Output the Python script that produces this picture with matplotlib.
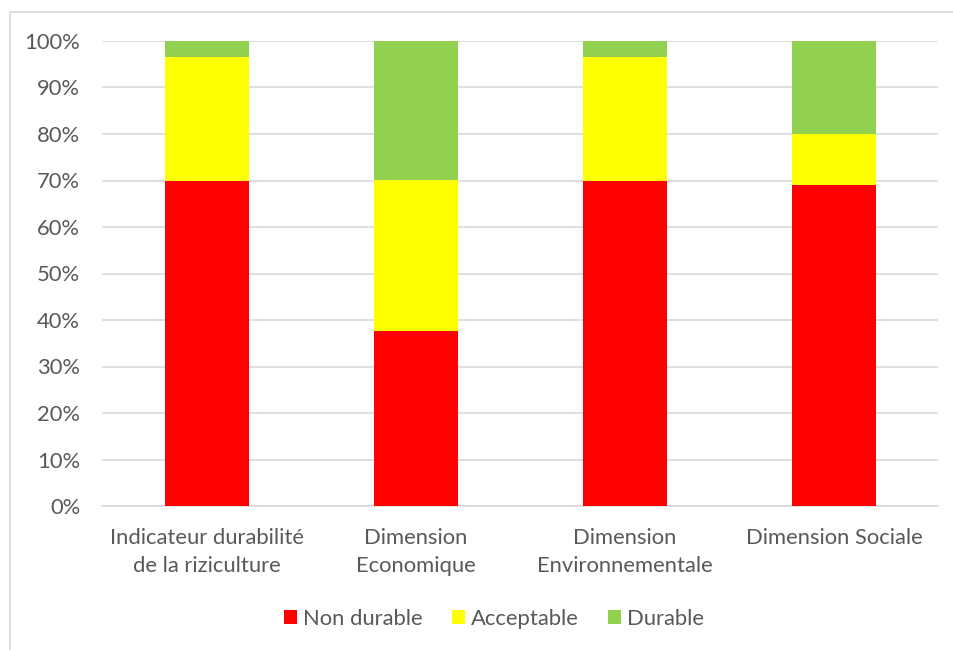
import matplotlib
matplotlib.use("Agg")
import matplotlib.pyplot as plt
from matplotlib.patches import Rectangle
from matplotlib.ticker import PercentFormatter

categories = ["Indicateur durabilité\nde la riziculture", "Dimension\nEconomique",
              "Dimension\nEnvironnementale", "Dimension Sociale"]
non_durable = [70.0, 37.7, 70.0, 69.0]
acceptable = [26.5, 32.5, 26.5, 11.0]
durable = [3.5, 29.8, 3.5, 20.0]
series_names = ["Non durable", "Acceptable", "Durable"]
colors = ["#FF0000", "#FFFF00", "#92D050"]

plt.rcParams['font.family'] = ['Lato', 'DejaVu Sans']
text_color = "#595959"
fs = 15.8

fig = plt.figure(figsize=(9.54, 6.5), dpi=100)
W, H = 954, 650
ax = fig.add_axes([102.5 / W, 1 - 506 / H, 836 / W, 465 / H])

x = range(len(categories))
bottom2 = [a + b for a, b in zip(non_durable, acceptable)]
ax.bar(x, non_durable, width=0.4, color=colors[0], label=series_names[0], zorder=3)
ax.bar(x, acceptable, width=0.4, bottom=non_durable, color=colors[1], label=series_names[1], zorder=3)
ax.bar(x, durable, width=0.4, bottom=bottom2, color=colors[2], label=series_names[2], zorder=3)

ax.set_xlim(-0.5, len(categories) - 0.5)
ax.set_ylim(0, 100)
ax.set_yticks(range(0, 101, 10))
ax.yaxis.set_major_formatter(PercentFormatter(decimals=0))
ax.grid(axis='y', color="#D9D9D9", linewidth=1.2, zorder=0)
for s in ["top", "right", "left"]:
    ax.spines[s].set_visible(False)
ax.spines["bottom"].set_color("#D9D9D9")
ax.spines["bottom"].set_linewidth(1.2)
ax.tick_params(axis='both', length=0, labelsize=fs, colors=text_color)
ax.tick_params(axis='y', pad=16)
ax.set_xticks(list(x))
ax.set_xticklabels(categories, linespacing=1.5)
ax.tick_params(axis='x', pad=16)

leg = fig.legend(loc="center", bbox_to_anchor=(494 / W, 1 - 619 / H), ncol=3, frameon=False,
                 fontsize=fs, handlelength=0.6, handleheight=0.6, handletextpad=0.3,
                 columnspacing=1.3)
for t in leg.get_texts():
    t.set_color(text_color)

# chart frame
fig.patches.append(Rectangle((10 / W, -0.05), 1.2, 1 - 12 / H + 0.05,
                             transform=fig.transFigure, fill=False,
                             edgecolor="#D9D9D9", linewidth=1.2))

fig.savefig("out.png", dpi=100)
